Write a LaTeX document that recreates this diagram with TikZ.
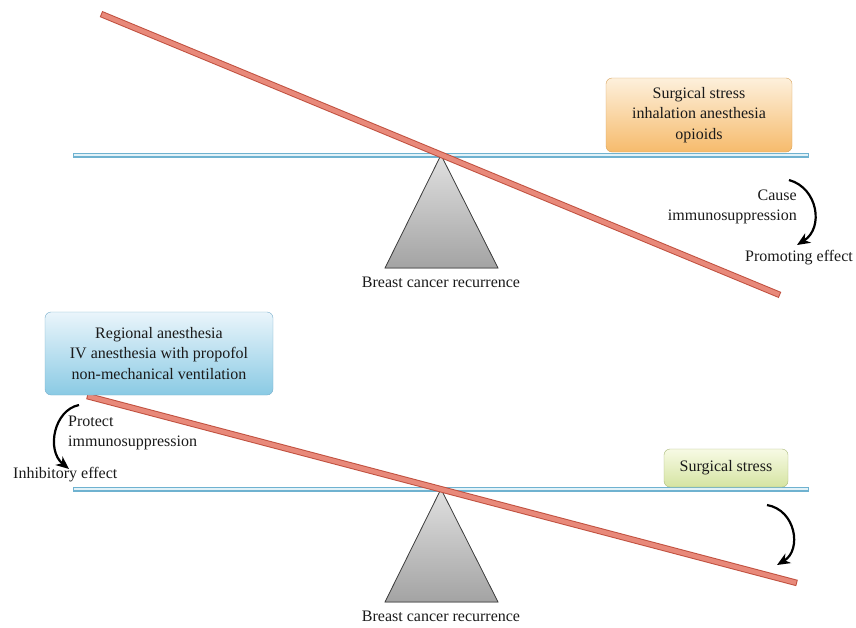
\documentclass[tikz,border=0pt]{standalone}
\usepackage{fontspec}
\setmainfont{Liberation Serif}
\usepackage{xcolor}
\usepackage{tikz}
\usetikzlibrary{arrows.meta}
\usetikzlibrary{calc}
\usetikzlibrary{positioning}

\definecolor{beamline}{HTML}{C0503F}
\definecolor{beamfill}{HTML}{E8897A}
\definecolor{barline}{HTML}{6FB2D0}
\definecolor{barfill}{HTML}{E2F2F8}
\definecolor{orangetop}{HTML}{FDF0DC}
\definecolor{orangebot}{HTML}{F6BB6C}
\definecolor{orangeline}{HTML}{D6A25C}
\definecolor{bluetop}{HTML}{EAF5FB}
\definecolor{bluebot}{HTML}{8ACAE4}
\definecolor{blueline}{HTML}{78AECB}
\definecolor{greentop}{HTML}{F7FAE4}
\definecolor{greenbot}{HTML}{D5E4A2}
\definecolor{greenline}{HTML}{A8B87A}
\definecolor{ink}{HTML}{1A1A1A}

\begin{document}
\begin{tikzpicture}[
    x=1pt, y=-1pt,
    font=\fontsize{16}{20.5}\selectfont,
    text=ink,
    bar/.style={draw=barfill, line width=2.6pt, shorten <=1.2pt, shorten >=1.2pt,
      preaction={draw=barline, line width=5pt, shorten <=0pt, shorten >=0pt}},
    beam/.style={draw=beamfill, line width=4.5pt, shorten <=1pt, shorten >=1pt,
      preaction={draw=beamline, line width=6.5pt, shorten <=0pt, shorten >=0pt}},
    fulcrum/.style={draw=black!75, line width=0.8pt, top color=black!12,
      middle color=black!17, bottom color=black!36},
    factor/.style={rounded corners=6pt, align=center, inner sep=0pt},
    curly/.style={-{Stealth[length=13pt,width=11pt,inset=4pt]}, line width=2.2pt, black}
  ]

  \useasboundingbox (0,0) rectangle (856,627);

  % bars, fulcrums and labels of both panels
  \foreach \p/\yb in {A/155, B/489} {
    \draw [bar] (73,\yb) -- (809,\yb);
    \coordinate (apex\p) at (441,\yb);
    \coordinate (base\p) at (441,{\yb+113});
    \filldraw [fulcrum] (apex\p) -- ($(base\p)+(-56,0)$) -- ($(base\p)+(57,0)$) -- cycle;
    \node (rec\p) [below=5pt of base\p] {Breast cancer recurrence};
  }

  % panel A
  \draw [beam] (101,14) -- (780,295);
  \node (boxA) [factor, draw=orangeline, top color=orangetop, bottom color=orangebot,
    minimum width=186pt, minimum height=74pt] at (699,115)
    {Surgical stress\\inhalation anesthesia\\opioids};

  \node (causeA) [align=right, anchor=east, inner sep=0pt] at (797,207)
    {Cause\\immunosuppression};
  \node (effA) at (799,258) {Promoting effect};
  \coordinate (arrA) at (789,180);
  \coordinate (tipA) at (797,245);
  \draw [curly] (arrA) .. controls (818,188) and (824,228) .. (tipA);

  % panel B
  \draw [beam] (87,396) -- (797,583);
  \node (boxB) [factor, draw=blueline, top color=bluetop, bottom color=bluebot,
    minimum width=228pt, minimum height=83pt] at (159,353.5)
    {Regional anesthesia\\IV anesthesia with propofol\\non-mechanical ventilation};
  \node (boxC) [factor, draw=greenline, top color=greentop, bottom color=greenbot,
    minimum width=124pt, minimum height=38pt] at (726,468) {Surgical stress};

  \node (protB) [align=left, anchor=west, inner sep=0pt] at (68,433)
    {Protect\\immunosuppression};
  \node (effB) [anchor=west, inner sep=0pt] at (13,475) {Inhibitory effect};
  \coordinate (arrB) at (79,405);
  \coordinate (tipB) at (69,469);
  \draw [curly] (arrB) .. controls (54,410) and (46,450) .. (tipB);

  \coordinate (arrC) at (767,505);
  \coordinate (tipC) at (777,565);
  \draw [curly] (arrC) .. controls (796,510) and (802,550) .. (tipC);

\end{tikzpicture}
\end{document}
